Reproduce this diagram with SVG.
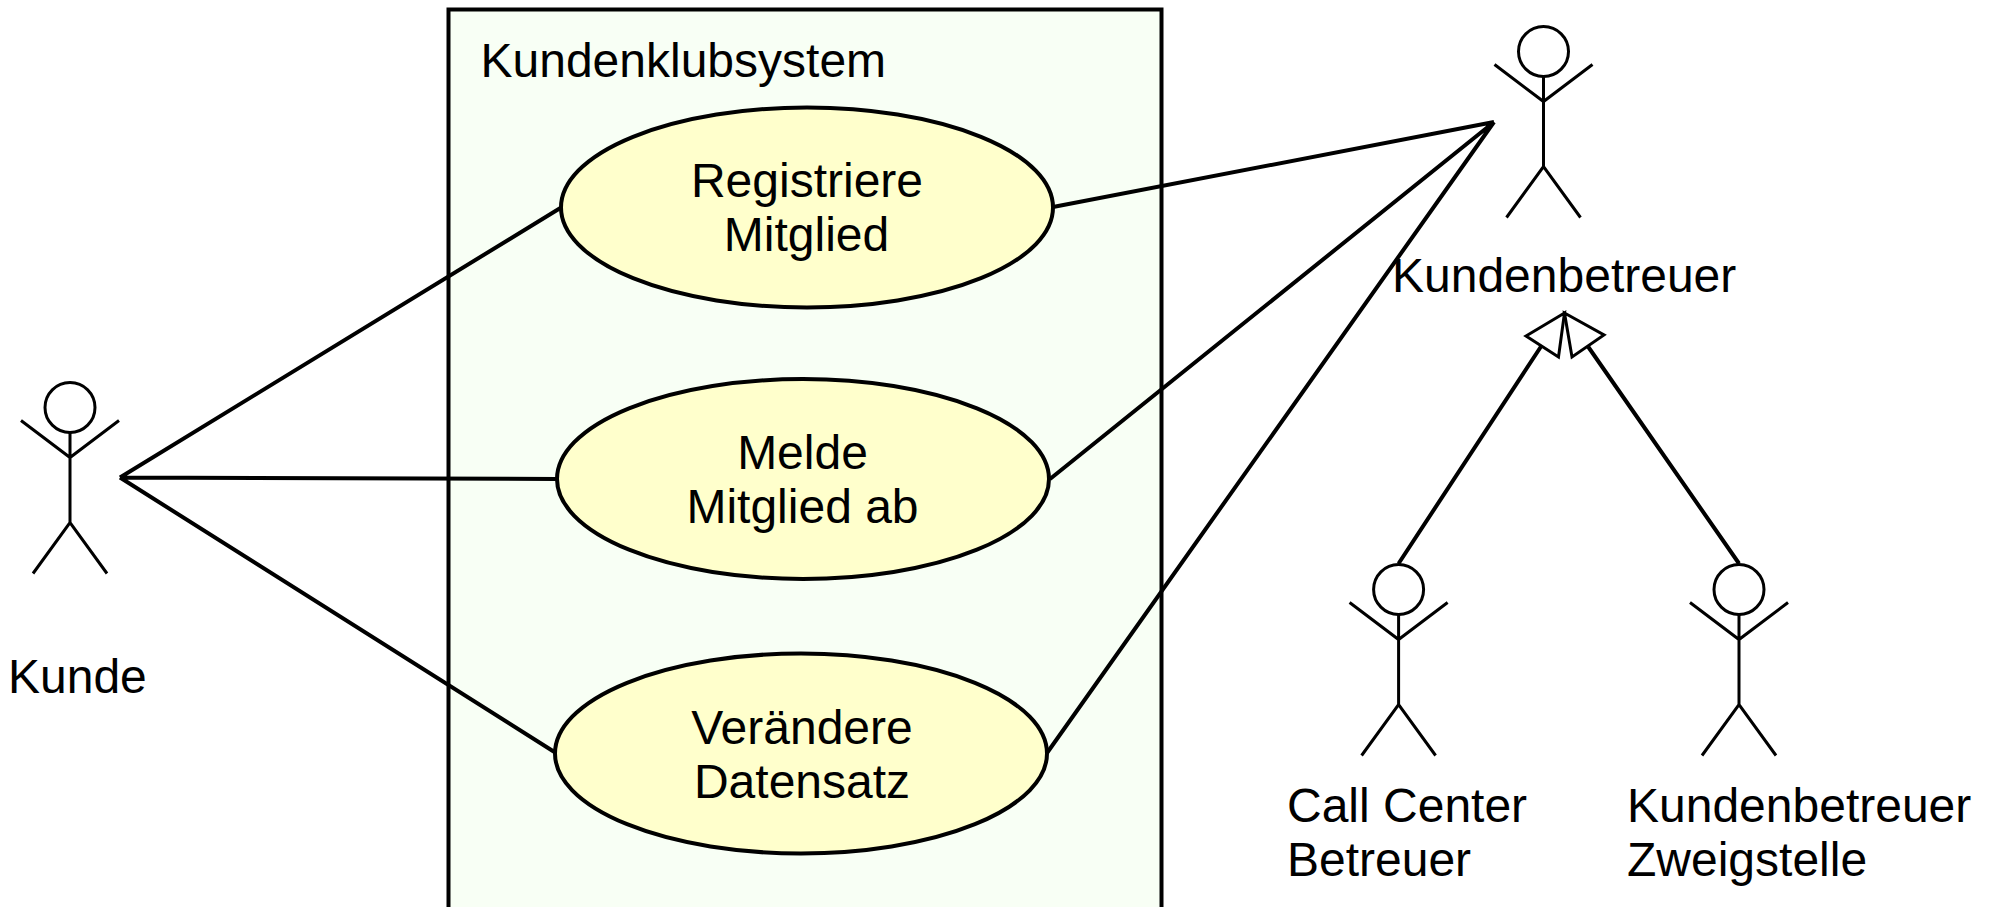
<svg xmlns="http://www.w3.org/2000/svg" width="1995" height="907" viewBox="0 0 1995 907">
<style>
text{font-family:"Liberation Sans",Arial,sans-serif;font-size:48px;fill:#000}
.m{text-anchor:middle}
.uc{fill:#ffc;stroke:#000;stroke-width:4}
.a{fill:none;stroke:#000;stroke-width:3;stroke-linecap:butt;stroke-linejoin:miter}
.c{fill:none;stroke:#000;stroke-width:4}
.t{fill:#fff;stroke:#000;stroke-width:3;stroke-linejoin:miter}
</style>
<defs>
<g id="actor" class="a"><circle cx="0" cy="0" r="25"/><path d="M0 25V115M-49 13L0 50L49 13M-37 166L0 115L37 166"/></g>
</defs>
<rect width="1995" height="907" fill="#fff"/>
<g id="system"><rect x="448.500" y="9.500" width="713" height="910" fill="#f8fff5" stroke="#000" stroke-width="4"/><text x="480.500" y="77">Kundenklubsystem</text></g>
<g id="connectors">
<path class="c" d="M120 477.500L562 207M120 477.500L557 479M120 477.500L556 753"/>
<path class="c" d="M1053 207L1494 122M1050 479L1494 122M1047 753L1494 122"/>
<path class="c" d="M1398.600 563.500L1541 346.500M1739 563.500L1588 346.500"/>
<path class="t" d="M1564.500 313L1526 336L1558.500 357Z"/>
<path class="t" d="M1564.500 313L1604 335L1572 357Z"/>
</g>
<g id="uc1"><ellipse class="uc" cx="807" cy="207.500" rx="246" ry="100"/><text class="m" x="807" y="197">Registriere</text><text class="m" x="806.500" y="251">Mitglied</text></g>
<g id="uc2"><ellipse class="uc" cx="803" cy="479" rx="246" ry="100"/><text class="m" x="802.500" y="468.500">Melde</text><text class="m" x="802.500" y="522.500">Mitglied ab</text></g>
<g id="uc3"><ellipse class="uc" cx="801" cy="753.500" rx="246" ry="100"/><text class="m" x="802" y="744">Verändere</text><text class="m" x="802" y="797.500">Datensatz</text></g>
<g id="kunde"><use href="#actor" x="70" y="407.500"/><text x="8" y="693">Kunde</text></g>
<g id="kundenbetreuer"><use href="#actor" x="1543.500" y="51.500"/><text x="1392" y="291.500">Kundenbetreuer</text></g>
<g id="callcenter"><use href="#actor" x="1398.600" y="589.500"/><text x="1287" y="822">Call Center</text><text x="1287" y="876">Betreuer</text></g>
<g id="zweigstelle"><use href="#actor" x="1739" y="589.500"/><text x="1627" y="822">Kundenbetreuer</text><text x="1627" y="876">Zweigstelle</text></g>
</svg>
